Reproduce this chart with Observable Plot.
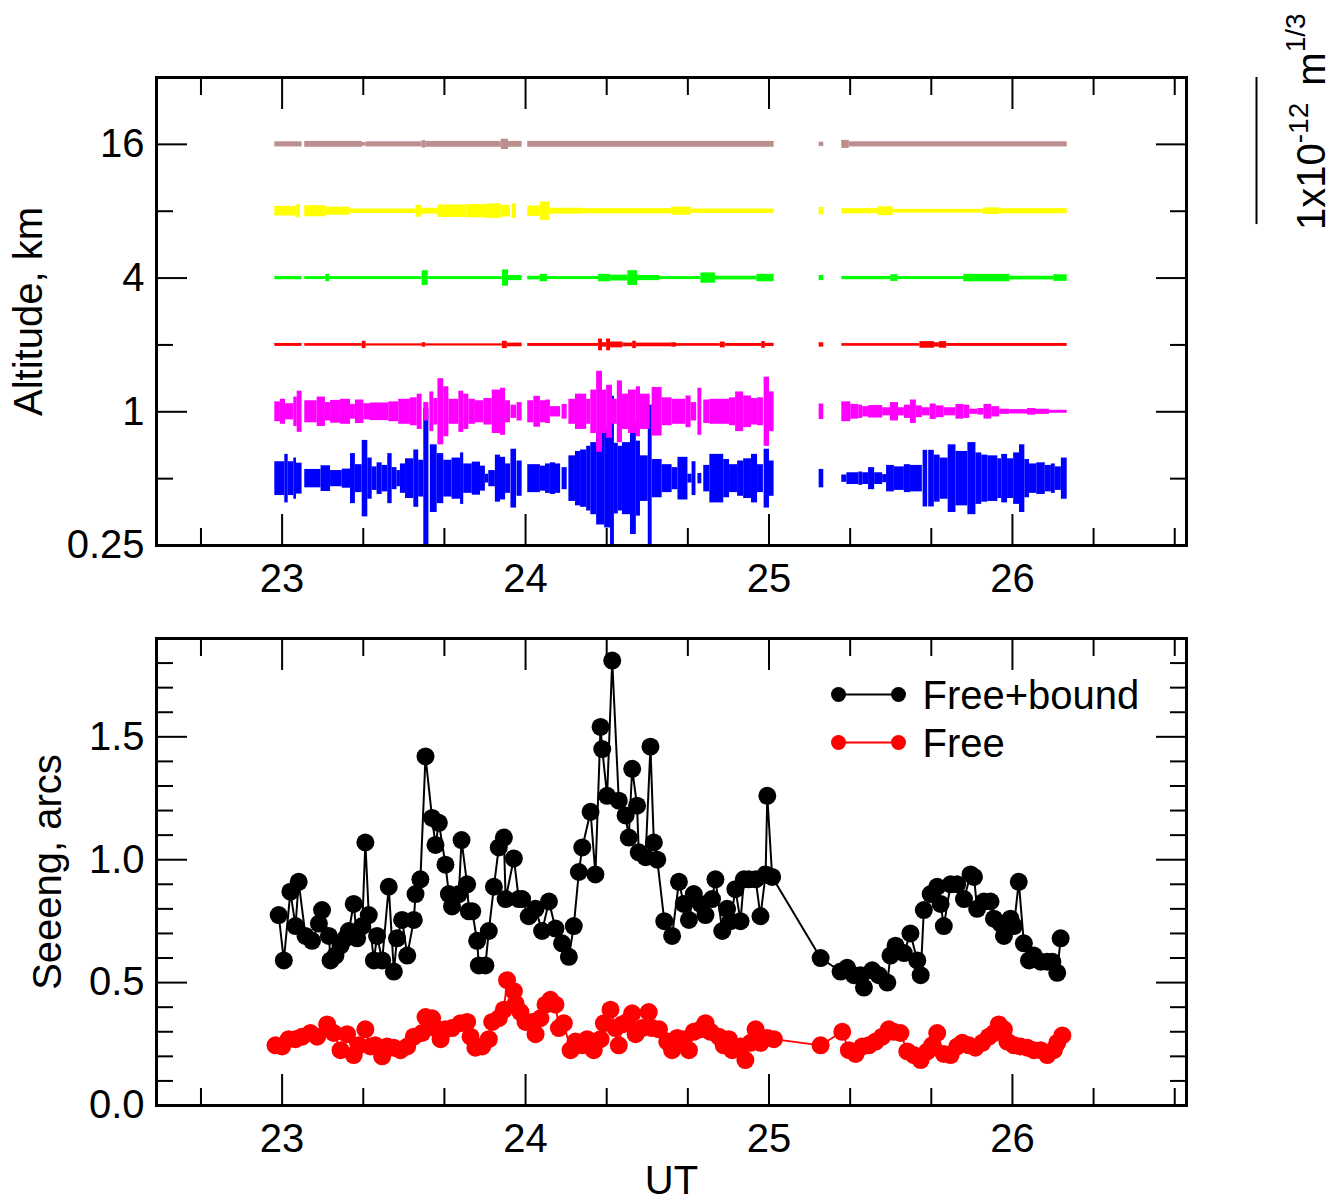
<!DOCTYPE html>
<html>
<head>
<meta charset="utf-8">
<script src="https://cdn.jsdelivr.net/npm/d3@7"></script>
<script src="https://cdn.jsdelivr.net/npm/@observablehq/plot@0.6"></script>
<style>
  html, body { margin: 0; padding: 0; background: #ffffff; }
  #chart { width: 1331px; }
  #chart svg { display: block; }
</style>
</head>
<body>
<div id="chart"></div>
<script>
// ---------------- DATA ----------------
// Axis ticks
const xMajor = [23, 24, 25, 26];
const xMinor = [22 + 2/3, 23 + 1/3, 23 + 2/3, 24 + 1/3, 24 + 2/3, 25 + 1/3, 25 + 2/3, 26 + 1/3, 26 + 2/3];
const altLabels = [0.25, 1, 4, 16];
const altMinor = [0.5, 2, 8];
const seeingMajor = [0, 0.5, 1.0, 1.5];
const seeingMinor = [0.1,0.2,0.3,0.4,0.6,0.7,0.8,0.9,1.1,1.2,1.3,1.4,1.6,1.7,1.8];

// Turbulence profile: [UT start, UT end, Cn2 integral in 1e-13 m^1/3] per altitude layer
const cn2_0p5km = [
 [22.970,23.011,2.3],[23.011,23.025,3.3],[23.025,23.048,2.3],[23.048,23.059,2.8],[23.059,23.082,2.1],
 [23.093,23.160,1.25],[23.160,23.199,1.75],[23.199,23.247,1.1],[23.247,23.281,1.3],[23.281,23.301,3.4],
 [23.301,23.329,1.9],[23.329,23.352,5.2],[23.352,23.370,2.8],[23.370,23.390,1.6],[23.390,23.411,2.15],
 [23.411,23.434,1.8],[23.434,23.452,3.4],[23.452,23.472,1.5],[23.472,23.486,1.1],[23.486,23.507,2.0],
 [23.507,23.541,2.7],[23.541,23.561,3.9],[23.561,23.582,2.5],[23.582,23.603,9.5],[23.609,23.637,4.6],
 [23.637,23.664,3.4],[23.664,23.698,2.5],[23.698,23.733,2.8],[23.733,23.746,3.5],[23.746,23.781,2.0],
 [23.781,23.815,2.25],[23.815,23.835,1.7],[23.835,23.849,0.6],[23.849,23.876,1.1],[23.876,23.897,3.2],
 [23.897,23.918,2.9],[23.918,23.938,2.0],[23.940,23.963,4.0],[23.965,23.986,2.4],[24.009,24.061,1.9],
 [24.061,24.082,1.7],[24.082,24.102,2.0],[24.102,24.123,2.15],[24.123,24.144,2.0],[24.150,24.171,1.5],
 [24.178,24.205,3.1],[24.205,24.226,3.7],[24.226,24.251,3.9],[24.251,24.268,4.4],[24.268,24.292,4.9],
 [24.292,24.325,6.3],[24.325,24.349,6.7],[24.349,24.365,11.2],[24.365,24.381,4.8],[24.381,24.398,4.4],
 [24.398,24.431,4.9],[24.431,24.455,7.6],[24.455,24.472,5.1],[24.472,24.504,3.1],[24.504,24.520,10.0],
 [24.520,24.561,2.6],[24.561,24.602,1.9],[24.602,24.626,1.5],[24.626,24.667,2.9],[24.667,24.684,0.6],
 [24.684,24.700,2.3],[24.708,24.724,0.7],[24.732,24.757,1.8],[24.757,24.814,3.3],[24.814,24.838,2.6],
 [24.838,24.871,1.9],[24.871,24.896,2.4],[24.896,24.928,2.7],[24.928,24.953,3.3],[24.953,24.977,1.9],
 [24.980,25.002,4.0],[25.002,25.021,2.4],
 [25.206,25.225,1.25],
 [25.299,25.320,0.5],[25.320,25.369,0.8],[25.369,25.385,0.9],[25.385,25.409,0.8],[25.409,25.434,1.5],
 [25.434,25.467,0.8],[25.467,25.483,0.55],[25.483,25.515,1.8],[25.515,25.556,1.6],[25.556,25.581,1.9],
 [25.581,25.630,1.8],[25.633,25.652,3.85],[25.656,25.679,3.85],[25.679,25.703,3.2],[25.703,25.736,2.8],
 [25.736,25.768,4.6],[25.768,25.817,3.7],[25.817,25.850,4.9],[25.850,25.874,3.5],[25.874,25.899,3.2],
 [25.899,25.940,3.1],[25.940,25.956,2.7],[25.956,25.980,3.3],[25.980,26.005,2.7],[26.005,26.029,3.5],
 [26.029,26.051,4.6],[26.051,26.070,2.6],[26.070,26.100,2.0],[26.100,26.135,2.15],[26.135,26.160,1.8],
 [26.160,26.176,2.0],[26.176,26.201,1.6],[26.201,26.225,2.8]
];
const cn2_1km = [
 [22.970,22.993,1.35],[22.993,23.014,1.7],[23.014,23.048,1.1],[23.048,23.062,2.0],[23.062,23.082,2.8],
 [23.093,23.144,1.5],[23.144,23.178,2.0],[23.178,23.199,1.25],[23.199,23.240,1.55],[23.240,23.281,1.7],
 [23.281,23.301,1.0],[23.301,23.336,1.6],[23.336,23.363,1.1],[23.363,23.438,1.2],[23.438,23.479,1.35],
 [23.479,23.527,1.7],[23.527,23.555,1.9],[23.555,23.575,2.4],[23.582,23.603,1.25],[23.607,23.623,2.7],
 [23.623,23.640,1.8],[23.640,23.664,4.5],[23.664,23.685,3.4],[23.685,23.726,1.7],[23.726,23.746,2.8],
 [23.746,23.767,2.4],[23.767,23.794,1.7],[23.794,23.829,1.5],[23.829,23.863,1.8],[23.863,23.897,2.95],
 [23.897,23.918,3.2],[23.918,23.938,1.5],[23.940,23.963,0.9],[23.965,23.986,1.25],[24.009,24.034,1.5],
 [24.034,24.061,2.1],[24.061,24.082,1.5],[24.082,24.102,1.6],[24.102,24.144,0.7],[24.150,24.171,1.0],
 [24.178,24.205,1.7],[24.205,24.251,2.4],[24.251,24.268,1.7],[24.268,24.292,2.95],[24.292,24.316,5.5],
 [24.316,24.333,2.95],[24.333,24.357,3.6],[24.357,24.377,1.7],[24.377,24.398,4.2],[24.398,24.423,2.4],
 [24.423,24.455,2.95],[24.455,24.472,3.4],[24.472,24.512,2.4],[24.520,24.561,3.3],[24.561,24.602,1.9],
 [24.602,24.659,1.7],[24.659,24.680,2.15],[24.680,24.703,1.25],[24.708,24.724,3.2],[24.732,24.757,1.6],
 [24.757,24.838,1.7],[24.838,24.863,1.9],[24.863,24.896,2.7],[24.896,24.928,2.15],[24.928,24.953,1.8],
 [24.953,24.977,1.9],[24.980,25.002,4.7],[25.002,25.021,2.7],
 [25.206,25.225,1.05],
 [25.299,25.336,1.35],[25.336,25.369,1.0],[25.369,25.385,0.9],[25.385,25.409,0.7],[25.409,25.467,0.85],
 [25.467,25.499,0.55],[25.499,25.532,1.25],[25.532,25.556,0.55],[25.556,25.581,0.9],[25.581,25.605,1.6],
 [25.605,25.630,0.8],[25.630,25.662,0.55],[25.662,25.687,1.05],[25.687,25.719,0.8],[25.719,25.768,0.55],
 [25.768,25.801,1.0],[25.801,25.825,0.9],[25.825,25.858,0.35],[25.858,25.883,0.45],[25.883,25.915,1.0],
 [25.915,25.948,0.7],[25.948,25.989,0.35],[25.989,26.062,0.3],[26.062,26.095,0.45],[26.095,26.152,0.35],
 [26.152,26.225,0.2]
];
const cn2_2km = [
 [22.970,23.082,0.2],[23.093,23.329,0.18],[23.329,23.345,0.5],[23.345,23.575,0.15],[23.575,23.590,0.3],
 [23.590,23.905,0.15],[23.905,23.925,0.5],[23.925,23.986,0.25],[24.009,24.300,0.2],[24.300,24.316,0.8],
 [24.316,24.333,0.3],[24.333,24.349,0.8],[24.349,24.400,0.4],[24.400,24.440,0.25],[24.440,24.455,0.5],
 [24.455,24.600,0.25],[24.600,24.620,0.3],[24.620,24.800,0.18],[24.800,24.820,0.4],[24.820,24.970,0.2],
 [24.970,24.985,0.45],[24.985,25.021,0.22],[25.206,25.225,0.3],[25.299,25.620,0.18],[25.620,25.680,0.45],
 [25.680,25.700,0.3],[25.700,25.730,0.45],[25.730,26.225,0.2]
];
const cn2_4km = [
 [22.970,23.082,0.22],[23.093,23.180,0.2],[23.180,23.195,0.5],[23.195,23.575,0.2],[23.575,23.600,1.0],
 [23.600,23.905,0.2],[23.905,23.930,1.1],[23.930,23.986,0.35],[24.009,24.060,0.25],[24.060,24.090,0.5],
 [24.090,24.300,0.2],[24.300,24.350,0.5],[24.350,24.420,0.4],[24.420,24.460,1.0],[24.460,24.550,0.35],
 [24.550,24.720,0.2],[24.720,24.780,0.7],[24.780,24.950,0.25],[24.950,25.021,0.5],[25.206,25.225,0.35],
 [25.299,25.500,0.22],[25.500,25.530,0.45],[25.530,25.800,0.2],[25.800,25.990,0.5],[25.990,26.170,0.25],
 [26.170,26.225,0.45]
];
const cn2_8km = [
 [22.970,23.060,0.65],[23.060,23.075,0.9],[23.093,23.180,0.75],[23.180,23.280,0.55],[23.280,23.550,0.3],
 [23.550,23.575,0.8],[23.575,23.640,0.4],[23.640,23.760,0.85],[23.760,23.840,0.9],[23.840,23.900,1.0],
 [23.900,23.938,0.8],[23.945,23.963,1.0],[24.009,24.060,0.7],[24.060,24.100,1.25],[24.100,24.230,0.4],
 [24.230,24.600,0.35],[24.600,24.680,0.55],[24.680,25.021,0.3],[25.206,25.225,0.5],[25.299,25.450,0.35],
 [25.450,25.510,0.6],[25.510,25.880,0.25],[25.880,25.950,0.45],[25.950,26.225,0.35]
];
const cn2_16km = [
 [22.970,23.082,0.35],[23.093,23.330,0.4],[23.330,23.345,0.25],[23.345,23.575,0.35],[23.575,23.590,0.5],
 [23.590,23.900,0.4],[23.900,23.930,0.7],[23.930,23.986,0.4],[24.009,25.021,0.4],[25.206,25.225,0.3],
 [25.299,25.330,0.55],[25.330,26.225,0.35]
];

// Seeing (arcsec) vs UT
const fbT = [22.986,23.007,23.034,23.055,23.068,23.096,23.123,23.151,23.164,23.192,23.199,23.219,23.240,23.260,23.274,23.294,23.308,23.329,23.342,23.356,23.377,23.390,23.411,23.438,23.459,23.472,23.493,23.514,23.541,23.548,23.568,23.589,23.616,23.630,23.644,23.671,23.685,23.698,23.726,23.737,23.760,23.767,23.781,23.801,23.808,23.835,23.849,23.870,23.890,23.911,23.918,23.952,23.972,23.986,24.013,24.041,24.068,24.096,24.123,24.150,24.178,24.198,24.219,24.233,24.267,24.287,24.308,24.315,24.335,24.356,24.383,24.411,24.424,24.438,24.458,24.465,24.493,24.513,24.527,24.541,24.570,24.602,24.630,24.650,24.671,24.691,24.719,24.739,24.766,24.780,24.808,24.828,24.842,24.862,24.883,24.897,24.917,24.945,24.965,24.986,24.993,25.013,25.212,25.294,25.321,25.349,25.376,25.390,25.424,25.451,25.486,25.499,25.520,25.554,25.581,25.609,25.623,25.636,25.664,25.691,25.705,25.718,25.746,25.773,25.801,25.828,25.842,25.855,25.883,25.910,25.924,25.951,25.965,25.992,26.006,26.026,26.047,26.068,26.088,26.116,26.143,26.164,26.184,26.198];
const fbSeeing = [0.775,0.59,0.87,0.73,0.91,0.69,0.67,0.74,0.795,0.69,0.59,0.61,0.65,0.68,0.71,0.82,0.68,0.73,1.07,0.775,0.59,0.69,0.59,0.89,0.545,0.68,0.755,0.61,0.755,0.86,0.92,1.42,1.17,1.06,1.15,0.98,0.86,0.81,0.86,1.08,0.90,0.79,0.79,0.67,0.57,0.57,0.71,0.89,1.05,1.09,0.84,1.005,0.84,0.84,0.77,0.80,0.71,0.83,0.72,0.66,0.605,0.73,0.95,1.05,1.195,0.94,1.54,1.45,1.26,1.81,1.24,1.18,1.09,1.37,1.22,1.03,1.01,1.46,1.07,1.00,0.75,0.69,0.91,0.82,0.755,0.86,0.82,0.775,0.84,0.92,0.71,0.80,0.75,0.88,0.75,0.92,0.92,0.92,0.77,0.94,1.26,0.93,0.60,0.545,0.56,0.53,0.53,0.48,0.55,0.53,0.50,0.61,0.65,0.62,0.70,0.59,0.53,0.795,0.86,0.89,0.82,0.73,0.90,0.90,0.84,0.94,0.93,0.80,0.83,0.83,0.76,0.74,0.69,0.76,0.73,0.91,0.66,0.59,0.61,0.585,0.585,0.585,0.54,0.68];

const freeT = [22.973,23.000,23.027,23.055,23.082,23.116,23.144,23.185,23.212,23.240,23.267,23.294,23.315,23.342,23.363,23.383,23.411,23.431,23.459,23.486,23.514,23.541,23.575,23.589,23.616,23.630,23.651,23.671,23.698,23.733,23.760,23.774,23.794,23.822,23.849,23.863,23.890,23.911,23.924,23.952,23.959,23.979,24.000,24.027,24.041,24.061,24.082,24.102,24.123,24.137,24.157,24.185,24.205,24.233,24.253,24.280,24.308,24.322,24.349,24.369,24.383,24.397,24.417,24.438,24.452,24.479,24.506,24.520,24.548,24.582,24.602,24.623,24.650,24.671,24.691,24.719,24.739,24.760,24.794,24.814,24.835,24.849,24.883,24.903,24.924,24.945,24.965,24.993,25.020,25.212,25.301,25.328,25.356,25.383,25.410,25.438,25.465,25.492,25.513,25.540,25.568,25.595,25.623,25.650,25.670,25.691,25.718,25.746,25.773,25.794,25.821,25.848,25.876,25.903,25.924,25.944,25.965,25.979,26.006,26.033,26.061,26.088,26.116,26.143,26.170,26.184,26.205];
const freeSeeing = [0.245,0.24,0.27,0.27,0.28,0.295,0.28,0.33,0.295,0.225,0.29,0.205,0.245,0.31,0.24,0.245,0.20,0.24,0.235,0.225,0.24,0.28,0.295,0.36,0.355,0.315,0.27,0.31,0.315,0.335,0.34,0.28,0.235,0.24,0.27,0.34,0.355,0.39,0.51,0.465,0.415,0.38,0.34,0.34,0.29,0.355,0.41,0.43,0.41,0.315,0.335,0.225,0.26,0.245,0.27,0.225,0.27,0.335,0.39,0.315,0.245,0.33,0.34,0.375,0.29,0.315,0.38,0.315,0.31,0.26,0.225,0.275,0.27,0.225,0.30,0.31,0.335,0.30,0.28,0.245,0.27,0.225,0.24,0.185,0.255,0.31,0.255,0.275,0.27,0.245,0.30,0.225,0.21,0.24,0.245,0.26,0.28,0.31,0.30,0.295,0.22,0.205,0.185,0.22,0.245,0.295,0.21,0.205,0.24,0.255,0.245,0.235,0.255,0.28,0.295,0.33,0.31,0.26,0.245,0.24,0.235,0.225,0.225,0.205,0.225,0.255,0.285];

// ---------------- SETTINGS ----------------
const FONT = "'Liberation Sans', Arial, Helvetica, sans-serif";
const X_DOMAIN = [22.484, 26.715];
const ALT_DOMAIN = [0.25, 32];
const SEEING_DOMAIN = [0, 1.9];
const OCT_PER_1E12 = 2.2;           // profile bar length (in altitude octaves) equal to 1e-12 m^1/3 (scale bar)
const fullOct = v => v / 10 * OCT_PER_1E12;   // v in 1e-13 m^1/3

const layers = [
  {alt: 0.5, color: "#0000ff", data: cn2_0p5km},
  {alt: 1,   color: "#ff00ff", data: cn2_1km},
  {alt: 2,   color: "#ff0000", data: cn2_2km},
  {alt: 4,   color: "#00ff00", data: cn2_4km},
  {alt: 8,   color: "#ffff00", data: cn2_8km},
  {alt: 16,  color: "#bc8f8f", data: cn2_16km}
];

const MAJ = 31, MIN = 17, TW = 2;
function frameAxes(yMajor, yMinor, yFormat) {
  return [
    Plot.axisX(xMajor, {anchor: "bottom", tickSize: -MAJ, tickPadding: MAJ + 18, strokeWidth: TW, tickFormat: d3.format("d"), label: null}),
    Plot.axisX(xMinor, {anchor: "bottom", tickSize: -MIN, strokeWidth: TW, fill: "none", tickFormat: () => "", label: null}),
    Plot.axisX(xMajor, {anchor: "top", tickSize: -MAJ, strokeWidth: TW, fill: "none", tickFormat: () => "", label: null}),
    Plot.axisX(xMinor, {anchor: "top", tickSize: -MIN, strokeWidth: TW, fill: "none", tickFormat: () => "", label: null}),
    Plot.axisY(yMajor, {anchor: "left", tickSize: -MAJ, tickPadding: MAJ + 12, strokeWidth: TW, tickFormat: yFormat, label: null}),
    Plot.axisY(yMinor, {anchor: "left", tickSize: -MIN, strokeWidth: TW, fill: "none", tickFormat: () => "", label: null}),
    Plot.axisY(yMajor, {anchor: "right", tickSize: -MAJ, strokeWidth: TW, fill: "none", tickFormat: () => "", label: null}),
    Plot.axisY(yMinor, {anchor: "right", tickSize: -MIN, strokeWidth: TW, fill: "none", tickFormat: () => "", label: null}),
    Plot.frame({strokeWidth: 3})
  ];
}

const baseStyle = {fontFamily: FONT, fontSize: "40px", background: "#ffffff", color: "#000000", overflow: "visible"};

// ---------------- TOP PANEL ----------------
const topPlot = Plot.plot({
  width: 1331, height: 605,
  marginLeft: 156, marginRight: 145, marginTop: 77, marginBottom: 60,
  style: baseStyle,
  x: {domain: X_DOMAIN, axis: null},
  y: {type: "log", base: 2, domain: ALT_DOMAIN, axis: null},
  marks: [
    ...layers.map(L => Plot.rect(L.data, {
      x1: d => d[0], x2: d => d[1],
      y1: d => L.alt * 2 ** (-fullOct(d[2]) / 2),
      y2: d => L.alt * 2 ** (fullOct(d[2]) / 2),
      fill: L.color, clip: true
    })),
    // scale bar: 1e-12 m^1/3
    Plot.ruleX([10], {x: () => X_DOMAIN[1], dx: 70, y1: () => ALT_DOMAIN[1], y2: d => ALT_DOMAIN[1] * 2 ** (-fullOct(d)), stroke: "black", strokeWidth: 2}),
    Plot.text(["Altitude, km"], {frameAnchor: "left", dx: -127, rotate: -90, textAnchor: "middle", lineAnchor: "middle", fontSize: 40}),
    ...frameAxes(altLabels, altMinor, d => String(d))
  ]
});

// scale-bar label with superscripts
{
  const sx = topPlot.scale("x"), sy = topPlot.scale("y");
  const x0 = sx.apply(X_DOMAIN[1]) + 139;
  const y0 = sy.apply(ALT_DOMAIN[1]) + 153;
  const t = d3.select(topPlot).append("text")
    .attr("transform", `translate(${x0},${y0}) rotate(-90)`)
    .attr("text-anchor", "start")
    .attr("font-family", FONT).attr("font-size", 40).attr("fill", "#000");
  t.append("tspan").text("1x10");
  t.append("tspan").attr("dy", -17).attr("font-size", 28).text("-12");
  t.append("tspan").attr("dy", 17).attr("dx", 6).text(" m");
  t.append("tspan").attr("dy", -20).attr("font-size", 28).text("1/3");
}

// ---------------- BOTTOM PANEL ----------------
const fb = fbT.map((t, i) => ({t, v: fbSeeing[i]}));
const fr = freeT.map((t, i) => ({t, v: freeSeeing[i]}));
const lineShape = {draw(ctx, l) { ctx.moveTo(0, 0); ctx.lineTo(0, -l); }};

const botPlot = Plot.plot({
  width: 1331, height: 596,
  marginLeft: 156, marginRight: 145, marginTop: 33, marginBottom: 96,
  style: baseStyle,
  x: {domain: X_DOMAIN, axis: null},
  y: {domain: SEEING_DOMAIN, axis: null},
  marks: [
    Plot.line(fb, {x: "t", y: "v", stroke: "#000000", strokeWidth: 2}),
    Plot.dot(fb, {x: "t", y: "v", r: 9, fill: "#000000"}),
    Plot.line(fr, {x: "t", y: "v", stroke: "#ff0000", strokeWidth: 1.8}),
    Plot.dot(fr, {x: "t", y: "v", r: 9, fill: "#ff0000"}),
    // legend
    Plot.vector([0], {frameAnchor: "top-right", dx: -348, dy: 56, length: 60, rotate: 90, anchor: "start", shape: lineShape, stroke: "#000000", strokeWidth: 2}),
    Plot.dot([0], {frameAnchor: "top-right", dx: -348, dy: 56, r: 7.5, fill: "#000000"}),
    Plot.dot([0], {frameAnchor: "top-right", dx: -288, dy: 56, r: 7.5, fill: "#000000"}),
    Plot.text(["Free+bound"], {frameAnchor: "top-right", dx: -264, dy: 58, textAnchor: "start", lineAnchor: "middle", fontSize: 40}),
    Plot.vector([0], {frameAnchor: "top-right", dx: -348, dy: 104, length: 60, rotate: 90, anchor: "start", shape: lineShape, stroke: "#ff0000", strokeWidth: 2}),
    Plot.dot([0], {frameAnchor: "top-right", dx: -348, dy: 104, r: 7.5, fill: "#ff0000"}),
    Plot.dot([0], {frameAnchor: "top-right", dx: -288, dy: 104, r: 7.5, fill: "#ff0000"}),
    Plot.text(["Free"], {frameAnchor: "top-right", dx: -264, dy: 106, textAnchor: "start", lineAnchor: "middle", fontSize: 40}),
    // axis titles
    Plot.text(["Seeeng, arcs"], {frameAnchor: "left", dx: -108, rotate: -90, textAnchor: "middle", lineAnchor: "middle", fontSize: 40}),
    Plot.text(["UT"], {frameAnchor: "bottom", dy: 60, lineAnchor: "top", fontSize: 40}),
    ...frameAxes(seeingMajor, seeingMinor, d3.format(".1f"))
  ]
});

document.getElementById("chart").append(topPlot, botPlot);
</script>
</body>
</html>
